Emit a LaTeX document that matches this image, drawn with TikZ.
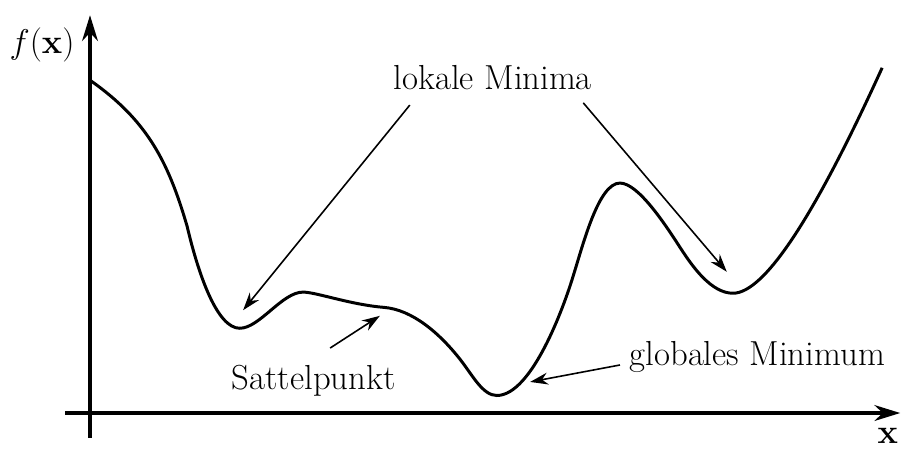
\documentclass[tikz,border=0pt]{standalone}
\usepackage{amsmath, amssymb}
\usepackage{tikz}
\usetikzlibrary{arrows.meta, positioning, calc}

\begin{document}
\begin{tikzpicture}[
  every node/.style={font=\fontsize{17.5}{21}\selectfont},
  axis/.style={line width=1.6pt, -{Stealth[length=13pt, width=8pt]}},
  pointer/.style={thick, -{Stealth[length=9pt, width=6pt]}}]

  \useasboundingbox (-1.593,-0.655) rectangle (14.407,7.310);

  % ---------- Axes ----------
  \coordinate (xs) at (-0.44,0);
  \coordinate (xe) at (14.34,0);
  \coordinate (ys) at (0,-0.44);
  \coordinate (ye) at (0,7.04);
  \draw[axis] (xs) -- (xe);
  \draw[axis] (ys) -- (ye);
  \node (fx) at (-0.85,6.51) {$f(\mathbf{x})$};
  \node[inner sep=1pt] (xl) at (14.12,-0.40) {$\mathbf{x}$};

  % ---------- Function ----------
  \draw[line width=1.5pt] (0,5.89)
    .. controls (1.00,5.19) and (1.38,4.47) .. (1.72,3.30)
    .. controls (1.92,2.45) and (2.25,1.50) .. (2.65,1.50)
    .. controls (3.00,1.50) and (3.40,2.14) .. (3.77,2.14)
    .. controls (4.00,2.14) and (4.60,1.92) .. (5.20,1.87)
    .. controls (5.70,1.83) and (6.18,1.42) .. (6.55,0.95)
    .. controls (6.77,0.67) and (6.95,0.31) .. (7.20,0.31)
    .. controls (7.82,0.31) and (8.39,1.89) .. (8.55,2.42)
    .. controls (8.73,2.99) and (9.00,4.07) .. (9.38,4.07)
    .. controls (9.70,4.07) and (10.18,3.34) .. (10.45,2.92)
    .. controls (10.67,2.58) and (11.00,2.12) .. (11.38,2.12)
    .. controls (11.93,2.12) and (12.81,3.45) .. (14.02,6.11);

  % ---------- Labels ----------
  \node (lm) at (7.13,5.93) {lokale Minima};
  \node (sp) at (3.96,0.58) {Sattelpunkt};
  \node (gm) at (11.81,0.99) {globales Minimum};

  \coordinate (lm1) at (5.66,5.45);
  \coordinate (lm2) at (8.73,5.49);
  \coordinate (min1) at (2.71,1.82);
  \coordinate (min2) at (11.27,2.50);
  \coordinate (sp1) at (4.25,1.15);
  \coordinate (sad) at (5.13,1.72);
  \coordinate (gm1) at (9.38,0.85);
  \coordinate (gmin) at (7.79,0.55);

  \draw[pointer] (lm1) -- (min1);
  \draw[pointer] (lm2) -- (min2);
  \draw[pointer] (sp1) -- (sad);
  \draw[pointer] (gm1) -- (gmin);
\end{tikzpicture}
\end{document}
